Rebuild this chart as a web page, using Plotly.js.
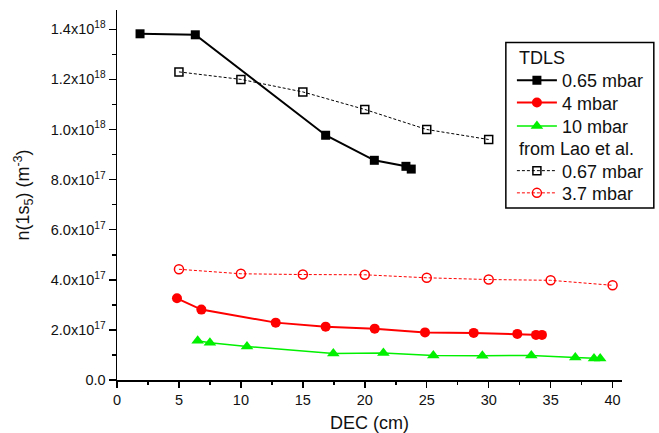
<!DOCTYPE html>
<html><head><meta charset="utf-8">
<script src="https://cdn.plot.ly/plotly-3.0.1.min.js"></script>
<style>html,body{margin:0;padding:0;background:#fff}#chart{width:659px;height:433px}</style>
</head><body><div id="chart"></div>
<script>
// TDLS data
var tdls065_x = [1.86, 6.32, 16.84, 20.77, 23.32, 23.75];
var tdls065_y = [1.382e18, 1.378e18, 0.977e18, 0.877e18, 0.853e18, 0.842e18];
var tdls4_x = [4.84, 6.81, 12.81, 16.84, 20.8, 24.86, 28.79, 32.31, 33.82, 34.3];
var tdls4_y = [3.26e17, 2.81e17, 2.29e17, 2.13e17, 2.05e17, 1.90e17, 1.88e17, 1.84e17, 1.80e17, 1.80e17];
var tdls10_x = [6.51, 7.5, 10.49, 17.46, 21.5, 25.53, 29.49, 33.44, 36.99, 38.5, 39.0];
var tdls10_y = [1.57e17, 1.49e17, 1.34e17, 1.06e17, 1.08e17, 0.98e17, 0.97e17, 0.98e17, 0.90e17, 0.86e17, 0.86e17];
// Lao et al. data
var lao067_x = [5, 10, 15, 20, 25, 30];
var lao067_y = [1.23e18, 1.20e18, 1.15e18, 1.08e18, 1.00e18, 0.96e18];
var lao37_x = [5, 10, 15, 20, 25, 30, 35, 40];
var lao37_y = [4.42e17, 4.24e17, 4.21e17, 4.20e17, 4.08e17, 4.01e17, 3.98e17, 3.78e17];
// tick labels
var yTickVals = [0, 2e17, 4e17, 6e17, 8e17, 1.0e18, 1.2e18, 1.4e18];
var yTickText = ["0.0", "2.0x10<sup>17</sup>", "4.0x10<sup>17</sup>", "6.0x10<sup>17</sup>", "8.0x10<sup>17</sup>", "1.0x10<sup>18</sup>", "1.2x10<sup>18</sup>", "1.4x10<sup>18</sup>"];
var names = ["0.65 mbar", "4 mbar", "10 mbar", "0.67 mbar", "3.7 mbar"];
var groupTitles = ["TDLS", "from Lao et al."];

var F = "Liberation Sans, Arial, sans-serif";
var traces = [
  {x: tdls065_x, y: tdls065_y, name: names[0], mode: "lines+markers", legend: "legend",
   line: {color: "#000", width: 2}, marker: {symbol: "square", size: 9, color: "#000"}},
  {x: tdls4_x, y: tdls4_y, name: names[1], mode: "lines+markers", legend: "legend2",
   line: {color: "#ff0000", width: 2}, marker: {symbol: "circle", size: 10, color: "#ff0000"}},
  {x: tdls10_x, y: tdls10_y, name: names[2], mode: "lines+markers", legend: "legend3",
   line: {color: "#00f000", width: 1.5}, marker: {symbol: "triangle-up", size: 11, color: "#00f000"}},
  {x: lao067_x, y: lao067_y, name: names[3], mode: "lines+markers", legend: "legend4",
   line: {color: "#000", width: 1, dash: "3px,2px"}, marker: {symbol: "square-open", size: 8, color: "#000", line: {width: 1.5}}},
  {x: lao37_x, y: lao37_y, name: names[4], mode: "lines+markers", legend: "legend5",
   line: {color: "#ff0000", width: 1, dash: "3px,2px"}, marker: {symbol: "circle-open", size: 9, color: "#ff0000", line: {width: 1.5}}}
];

function leg(y) {
  return {x: 0.782, y: y, xanchor: "left", yanchor: "middle", bgcolor: "rgba(0,0,0,0)", borderwidth: 0,
          itemwidth: 40, font: {size: 18, family: F, color: "#111"}};
}

var layout = {
  width: 659, height: 433,
  margin: {l: 117, r: 37, t: 10, b: 53},
  paper_bgcolor: "#fff", plot_bgcolor: "#fff",
  font: {family: F, color: "#111"},
  showlegend: true,
  xaxis: {
    range: [0, 40.76], tickmode: "linear", tick0: 0, dtick: 5,
    showgrid: false, zeroline: false, showline: true, linecolor: "#000", linewidth: 1.5,
    ticks: "outside", ticklen: 6, tickwidth: 1.5, tickcolor: "#000",
    tickfont: {size: 14.5, family: F, color: "#111"},
    minor: {dtick: 2.5, ticks: "outside", ticklen: 3, tickwidth: 1.5, tickcolor: "#000", showgrid: false},
    title: {text: "DEC (cm)", font: {size: 18, family: F, color: "#111"}, standoff: 10}
  },
  yaxis: {
    range: [0, 1.477e18], tickmode: "array", tickvals: yTickVals, ticktext: yTickText,
    showgrid: false, zeroline: false, showline: true, linecolor: "#000", linewidth: 1.5,
    ticks: "outside", ticklen: 7, tickwidth: 1.5, tickcolor: "#000",
    tickfont: {size: 14.5, family: F, color: "#111"},
    minor: {tickmode: "linear", tick0: 0, dtick: 1e17, ticks: "outside", ticklen: 4, tickwidth: 1.5, tickcolor: "#000", showgrid: false},
    title: {text: "n(1s<sub>5</sub>) (m<sup>-3</sup>)", font: {size: 18, family: F, color: "#111"}, standoff: 16}
  },
  legend: leg(0.809),
  legend2: leg(0.749),
  legend3: leg(0.686),
  legend4: leg(0.565),
  legend5: leg(0.505),
  annotations: [
    {text: groupTitles[0], xref: "paper", yref: "paper", x: 0.7915, y: 0.869, xanchor: "left", yanchor: "middle",
     showarrow: false, font: {size: 18, family: F, color: "#111"}},
    {text: groupTitles[1], xref: "paper", yref: "paper", x: 0.7915, y: 0.625, xanchor: "left", yanchor: "middle",
     showarrow: false, font: {size: 18, family: F, color: "#111"}}
  ],
  shapes: [{type: "rect", xref: "paper", yref: "paper", x0: 0.770, x1: 1.063, y0: 0.465, y1: 0.912,
            line: {color: "#000", width: 1.5}, fillcolor: "rgba(0,0,0,0)"}]
};
Plotly.newPlot("chart", traces, layout, {displayModeBar: false, staticPlot: true});
</script>
</body></html>
